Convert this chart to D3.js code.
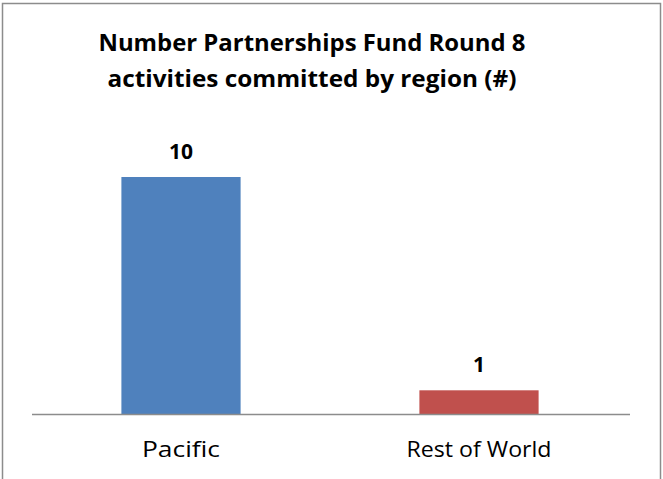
<!DOCTYPE html>
<html>
<head>
<meta charset="utf-8">
<script src="https://cdn.jsdelivr.net/npm/d3@7"></script>
<style>
    body { margin: 0; background: #fff; }
    svg text { font-family: "Open Sans", "Noto Sans", sans-serif; fill: #000; }
</style>
</head>
<body>
<div id="chart"></div>
<script>
var titleLines = ["Number Partnerships Fund Round 8", "activities committed by region (#)"];
var categories = ["Pacific", "Rest of World"];
var values = [10, 1];
var barColors = ["#4f81bd", "#c0504d"];

var width = 663, height = 479;

// widths the texts take in the original (Calibri), used to squeeze Open Sans
var titleWidths = [427, 409];
var catWidths = {"Pacific": 78, "Rest of World": 145};

var svg = d3.select('#chart').append('svg')
    .attr('width', width)
    .attr('height', height);

// chart frame
svg.append('rect')
    .attr('x', 2.5).attr('y', 3.5)
    .attr('width', 658).attr('height', 490)
    .attr('fill', '#fff')
    .attr('stroke', '#8c8c8c')
    .attr('stroke-width', 1.5);

var x = d3.scaleBand()
    .domain(categories)
    .range([32, 628])
    .paddingInner(0.6)
    .paddingOuter(0.3);

var y = d3.scaleLinear()
    .domain([0, 12])
    .range([414, 129.6]);

// title
svg.selectAll('.title')
    .data(titleLines)
    .enter()
    .append('text')
    .attr('class', 'title')
    .attr('x', 312)
    .attr('y', function (d, i) { return 51 + i * 36; })
    .attr('text-anchor', 'middle')
    .attr('textLength', function (d, i) { return titleWidths[i]; })
    .attr('lengthAdjust', 'spacingAndGlyphs')
    .style('font-size', '23px')
    .style('font-weight', 'bold')
    .text(function (d) { return d; });

// bars
svg.selectAll('.bar')
    .data(values)
    .enter()
    .append('rect')
    .attr('class', 'bar')
    .attr('x', function (d, i) { return x(categories[i]); })
    .attr('y', function (d) { return y(d); })
    .attr('width', x.bandwidth())
    .attr('height', function (d) { return y(0) - y(d); })
    .attr('fill', function (d, i) { return barColors[i]; });

// value labels
svg.selectAll('.val')
    .data(values)
    .enter()
    .append('text')
    .attr('class', 'val')
    .attr('x', function (d, i) { return x(categories[i]) + x.bandwidth() / 2; })
    .attr('y', function (d) { return y(d) - 18.5; })
    .attr('text-anchor', 'middle')
    .style('font-size', '21px')
    .style('font-weight', 'bold')
    .text(function (d) { return d; });

// category axis
var xAxis = svg.append('g')
    .attr('transform', 'translate(0,' + y(0) + ')')
    .call(d3.axisBottom(x).tickSize(0).tickPadding(28));
xAxis.select('.domain')
    .attr('d', 'M32,0.5H630')
    .attr('stroke', '#8c8c8c')
    .attr('stroke-width', 1.5);
xAxis.selectAll('text')
    .attr('textLength', function (d) { return catWidths[d]; })
    .attr('lengthAdjust', 'spacingAndGlyphs')
    .style('font-size', '21px')
    .style('font-family', '"Open Sans", "Noto Sans", sans-serif')
    .style('fill', '#000');
</script>
</body>
</html>
